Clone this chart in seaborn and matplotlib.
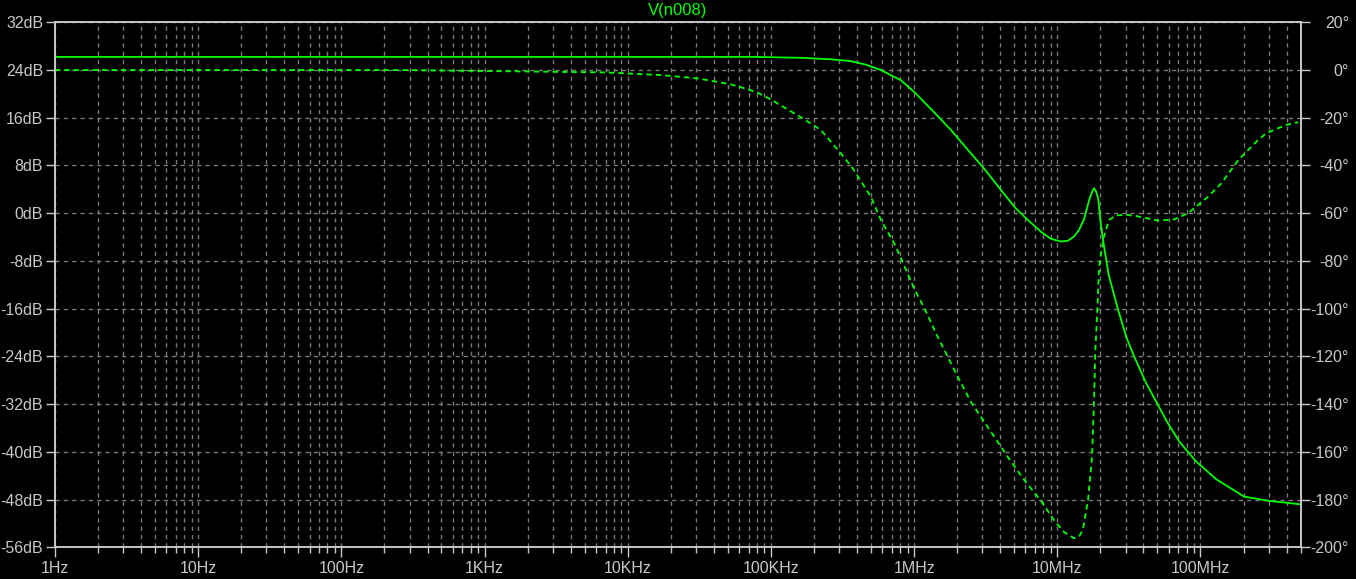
import numpy as np
import pandas as pd
import matplotlib
matplotlib.use("Agg")
import matplotlib.pyplot as plt
import seaborn as sns
from matplotlib.ticker import FixedLocator, LogLocator, NullFormatter

# ---- data ----
mag_freq = [1, 1e3, 7.6e4, 1.62e5, 2.62e5, 3.61e5, 4.6e5, 5.86e5, 8.08e5, 9.95e5, 1.37e6,
            1.81e6, 2.38e6, 3.08e6, 4.04e6, 5.14e6, 6.21e6, 7.69e6, 9.04e6, 1.06e7,
            1.19e7, 1.31e7, 1.42e7, 1.54e7, 1.67e7, 1.75e7, 1.81e7, 1.87e7, 1.93e7,
            2.02e7, 2.12e7, 2.29e7, 2.45e7, 2.64e7, 3.03e7, 3.44e7, 4.18e7, 5.04e7,
            5.92e7, 7.13e7, 9.33e7, 1.29e8, 2.02e8, 2.97e8, 5.0e8]
mag_db = [26.2, 26.2, 26.2, 26.05, 25.8, 25.5, 24.9, 24.0, 22.3, 20.4, 17.0,
          13.95, 10.6, 7.5, 3.9, 0.8, -1.1, -3.1, -4.3, -4.75,
          -4.6, -3.9, -2.8, -1.0, 2.2, 3.6, 4.2, 3.6, 2.5,
          -2.0, -5.5, -10.4, -13.0, -15.9, -20.7, -24.0, -28.5, -32.1,
          -35.2, -38.3, -41.6, -44.6, -47.5, -48.2, -48.8]

ph_freq = [1, 257, 7.0e3, 1.7e4, 3.08e4, 5.24e4, 6.67e4, 8.09e4, 9.97e4, 1.62e5, 2.23e5,
           3.08e5, 3.73e5, 4.99e5, 5.86e5, 7.26e5, 8.30e5, 1.0e6, 1.18e6, 1.46e6,
           1.91e6, 2.49e6, 3.26e6, 4.50e6, 5.88e6, 7.69e6, 9.48e6, 1.11e7, 1.31e7,
           1.42e7, 1.51e7, 1.64e7, 1.69e7, 1.75e7, 1.81e7, 1.84e7, 1.90e7, 1.96e7,
           2.02e7, 2.12e7, 2.30e7, 2.58e7, 3.03e7, 3.44e7, 5.06e7, 6.55e7, 8.20e7,
           1.13e8, 1.40e8, 1.84e8, 2.53e8, 2.88e8, 3.55e8, 3.97e8, 4.82e8]
ph_deg = [0, 0, -1.0, -2.1, -3.5, -6.0, -7.8, -9.5, -12.3, -19.8, -25.1,
          -34.9, -41.2, -53.1, -62.8, -72.6, -80.3, -91.5, -99.8, -111.7,
          -125.7, -139.0, -149.5, -162.0, -171.8, -180.5, -188.6, -193.5, -196.2,
          -195.5, -192.7, -180.2, -172.0, -162.0, -137.0, -119.0, -102.0, -83.0,
          -77.0, -69.8, -62.8, -60.9, -60.7, -61.0, -63.1, -62.6, -60.0,
          -53.1, -47.5, -37.7, -29.3, -26.5, -24.2, -23.0, -21.9]

x_ticks = [1, 10, 100, 1e3, 1e4, 1e5, 1e6, 1e7, 1e8]
x_labels = ["1Hz", "10Hz", "100Hz", "1KHz", "10KHz", "100KHz", "1MHz", "10MHz", "100MHz"]
db_ticks = [32, 24, 16, 8, 0, -8, -16, -24, -32, -40, -48, -56]
deg_ticks = [20, 0, -20, -40, -60, -80, -100, -120, -140, -160, -180, -200]
title = "V(n008)"

# ---- style ----
sns.set_theme(style="dark")
plt.rcParams["font.family"] = ["Liberation Sans", "DejaVu Sans"]
GREEN = "#00ff00"
FG = "#c8c8c8"
GRID = "#7a7a7a"

fig = plt.figure(figsize=(13.56, 5.79), dpi=100, facecolor="black")
ax = fig.add_axes([55 / 1356, 1 - 547.3 / 579, (1300.5 - 55) / 1356, (547.3 - 22.3) / 579])
ax.set_facecolor("black")
ax2 = ax.twinx()
ax2.patch.set_visible(False)

mag_df = pd.DataFrame({"f": mag_freq, "db": mag_db})
ph_df = pd.DataFrame({"f": ph_freq, "deg": ph_deg})

sns.lineplot(data=mag_df, x="f", y="db", ax=ax, color=GREEN, lw=1.3, estimator=None, sort=False)
sns.lineplot(data=ph_df, x="f", y="deg", ax=ax2, color=GREEN, lw=1.3, estimator=None, sort=False,
             linestyle=(0, (3, 2.2)))

ax.set_xscale("log")
ax.set_xlim(1, 5e8)
ax.set_ylim(-56, 32)
ax2.set_ylim(-200, 20)

ax.xaxis.set_major_locator(FixedLocator(x_ticks))
ax.set_xticklabels(x_labels)
ax.xaxis.set_minor_locator(LogLocator(base=10, subs=np.arange(2, 10), numticks=100))
ax.xaxis.set_minor_formatter(NullFormatter())
ax.set_yticks(db_ticks)
ax.set_yticklabels([f"{v}dB" for v in db_ticks])
ax2.set_yticks(deg_ticks)
ax2.set_yticklabels([f"{v}\u00b0" for v in deg_ticks])

ax.set_xlabel("")
ax.set_ylabel("")
ax2.set_ylabel("")

ax.grid(True, which="both", axis="x", color=GRID, linestyle=(0, (3, 3)), lw=1)
ax.grid(True, which="major", axis="y", color=GRID, linestyle=(0, (3, 3)), lw=1)
ax2.grid(False)

for a in (ax, ax2):
    for s in a.spines.values():
        s.set_color(FG)
        s.set_linewidth(1.2)
        s.set_visible(True)

ax.tick_params(axis="x", which="major", direction="out", length=7, width=1, color=FG,
               labelcolor=FG, labelsize=11.5, pad=3, bottom=True)
ax.tick_params(axis="x", which="minor", direction="out", length=4, width=1, color=FG, bottom=True)
ax.tick_params(axis="y", which="major", direction="out", length=6.5, width=1, color=FG,
               labelcolor=FG, labelsize=11.5, pad=2, left=True)
ax2.tick_params(axis="y", which="major", direction="out", length=6.5, width=1, color=FG,
                labelcolor=FG, labelsize=11.5, pad=28.5, right=True)
for lab in ax2.get_yticklabels():
    lab.set_horizontalalignment("right")

fig.text((55 + 1300.5) / 2 / 1356, 1 - 10 / 579, title, color=GREEN, fontsize=12,
         ha="center", va="center")

fig.savefig("out.png", dpi=100, facecolor="black")
